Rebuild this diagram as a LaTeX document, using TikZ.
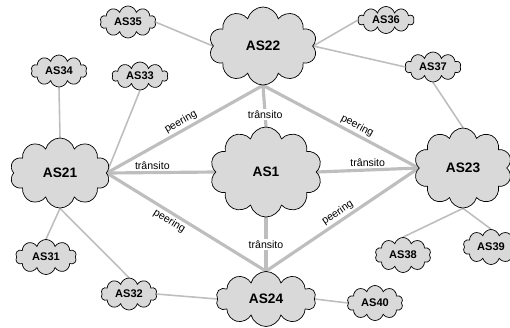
\documentclass[tikz,border=0pt]{standalone}
\usepackage{fontspec}
\setmainfont{Liberation Sans}
\usepackage{tikz}
\usetikzlibrary{shapes.symbols,backgrounds}
\definecolor{CloudGray}{HTML}{D9D9D9}
\definecolor{LinkGray}{HTML}{BEBEBE}

\begin{document}
\begin{tikzpicture}[
  asbig/.style={cloud, cloud puffs=10, cloud ignores aspect, draw=black, line width=0.4pt,
    fill=CloudGray, inner sep=0pt, font=\bfseries\fontsize{7.8}{9}\selectfont},
  assmall/.style={asbig, cloud puffs=10, minimum width=1.12cm, minimum height=0.64cm,
    font=\bfseries\fontsize{6.3}{7}\selectfont},
  trunk/.style={LinkGray, line width=1.8pt},
  stub/.style={LinkGray, line width=0.9pt},
  tag/.style={text=black, font=\fontsize{6}{7}\selectfont, inner sep=1pt}
]
  \useasboundingbox (0,0) rectangle (10.2,6.54);
  % backbone
  \node[asbig, minimum width=2.24cm, minimum height=1.8cm] (as1) at (5.32,3.10) {AS1};
  \node[asbig, minimum width=2.0cm, minimum height=1.4cm] (as21) at (1.20,3.08) {AS21};
  \node[asbig, minimum width=2.16cm, minimum height=1.56cm] (as22) at (5.26,5.62) {AS22};
  \node[asbig, minimum width=1.96cm, minimum height=1.6cm] (as23) at (9.26,3.18) {AS23};
  \node[asbig, minimum width=2.0cm, minimum height=1.1cm] (as24) at (5.32,0.56) {AS24};
  % stubs
  \node[assmall] (as35) at (2.56,6.10) {AS35};
  \node[assmall, minimum height=0.54cm] (as36) at (7.72,6.14) {AS36};
  \node[assmall, minimum height=0.6cm] (as37) at (8.66,5.20) {AS37};
  \node[assmall] (as34) at (1.18,5.12) {AS34};
  \node[assmall, minimum height=0.56cm] (as33) at (2.80,5.02) {AS33};
  \node[assmall, minimum width=1.22cm, minimum height=0.7cm] (as31) at (0.92,1.40) {AS31};
  \node[assmall] (as32) at (2.58,0.66) {AS32};
  \node[assmall, minimum height=0.7cm] (as40) at (7.50,0.48) {AS40};
  \node[assmall, minimum height=0.7cm] (as38) at (8.06,1.44) {AS38};
  \node[assmall, minimum height=0.7cm] (as39) at (9.82,1.60) {AS39};

  \begin{scope}[on background layer]
    \draw[trunk] (as21.east) -- node[tag, above, pos=0.42] {trânsito} (as1.west);
    \draw[trunk] (as1.east) -- node[tag, above] {trânsito} (as23.west);
    \draw[trunk] (as22.south) -- node[tag, fill=white, pos=0.7] {trânsito} (as1.north);
    \draw[trunk] (as1.south) -- node[tag, fill=white, pos=0.5] {trânsito} (as24.north);
    \draw[trunk] (as21.east) -- node[tag, sloped, above, pos=0.5] {peering} (as22.south);
    \draw[trunk] (as22.south) -- node[tag, sloped, above, pos=0.58] {peering} (as23.west);
    \draw[trunk] (as21.east) -- node[tag, sloped, below, pos=0.42] {peering} (as24.north);
    \draw[trunk] (as24.north) -- node[tag, sloped, above, pos=0.5] {peering} (as23.west);

    \draw[stub] (as35.east) -- (as22.west);
    \draw[stub] (as36.west) -- (as22.east);
    \draw[stub] (as37.west) -- (as22.east);
    \draw[stub] (as37.south) -- (as23.north);
    \draw[stub] (as34.south) -- (as21.north);
    \draw[stub] (as33.south) -- (as21.east);
    \draw[stub] (as31.north) -- (as21.south);
    \draw[stub] (as32.north) -- (as21.south);
    \draw[stub] (as32.east) -- (as24.west);
    \draw[stub] (as24.east) -- (as40.west);
    \draw[stub] (as38.north) -- (as23.south);
    \draw[stub] (as39.north) -- (as23.south);
  \end{scope}
\end{tikzpicture}
\end{document}
